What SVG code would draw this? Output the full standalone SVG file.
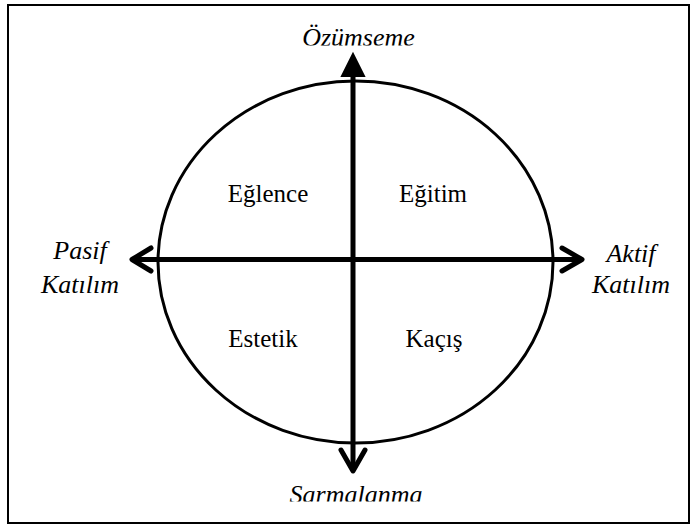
<svg xmlns="http://www.w3.org/2000/svg" width="693" height="525" viewBox="0 0 693 525">
<style>
.lbl{font-size:25px;fill:#000;text-anchor:middle}
.ax{font-size:26px;font-style:italic;fill:#000;text-anchor:middle}
.line{stroke:#000;stroke-width:5;fill:none}
.head{stroke:#000;stroke-width:5;fill:none;stroke-linecap:round;stroke-linejoin:round}
</style>
<defs>
<clipPath id="clipTop"><rect x="0" y="0" width="693" height="45.5"/></clipPath>
<clipPath id="clipBot"><rect x="0" y="470" width="693" height="31.5"/></clipPath>
</defs>
<rect x="8" y="5" width="681" height="518" fill="#fff" stroke="#000" stroke-width="2"/>
<g id="circle">
<ellipse cx="355.5" cy="262" rx="197.5" ry="181" fill="none" stroke="#000" stroke-width="3"/>
</g>
<g id="connectors">
<line class="line" x1="353" y1="66" x2="353" y2="470"/>
<line class="line" x1="134" y1="259.5" x2="581" y2="259.5"/>
<polygon points="353,54 342,76 364,76" fill="#000" stroke="#000" stroke-width="2" stroke-linejoin="miter"/>
<polyline class="head" points="341,450 353,471 365,450"/>
<polyline class="head" points="151,248 132,259.5 151,271"/>
<polyline class="head" points="562,248 582,259.5 562,271"/>
</g>
<g font-family="Liberation Serif, DejaVu Serif, serif">
<g id="egl"><text class="lbl" x="268" y="202">Eğlence</text></g>
<g id="egi"><text class="lbl" x="433" y="202">Eğitim</text></g>
<g id="est"><text class="lbl" x="263" y="347">Estetik</text></g>
<g id="kac"><text class="lbl" x="434" y="347">Kaçış</text></g>
<g id="ozumseme"><text class="ax" x="358.5" y="46" clip-path="url(#clipTop)">Özümseme</text></g>
<g id="sarmalanma"><text class="ax" x="356" y="503" clip-path="url(#clipBot)">Sarmalanma</text></g>
<g id="pasif"><text class="ax" x="80" y="259">Pasif</text><text class="ax" x="80" y="293">Katılım</text></g>
<g id="aktif"><text class="ax" x="631" y="262">Aktif</text><text class="ax" x="631" y="293">Katılım</text></g>
</g>
</svg>
